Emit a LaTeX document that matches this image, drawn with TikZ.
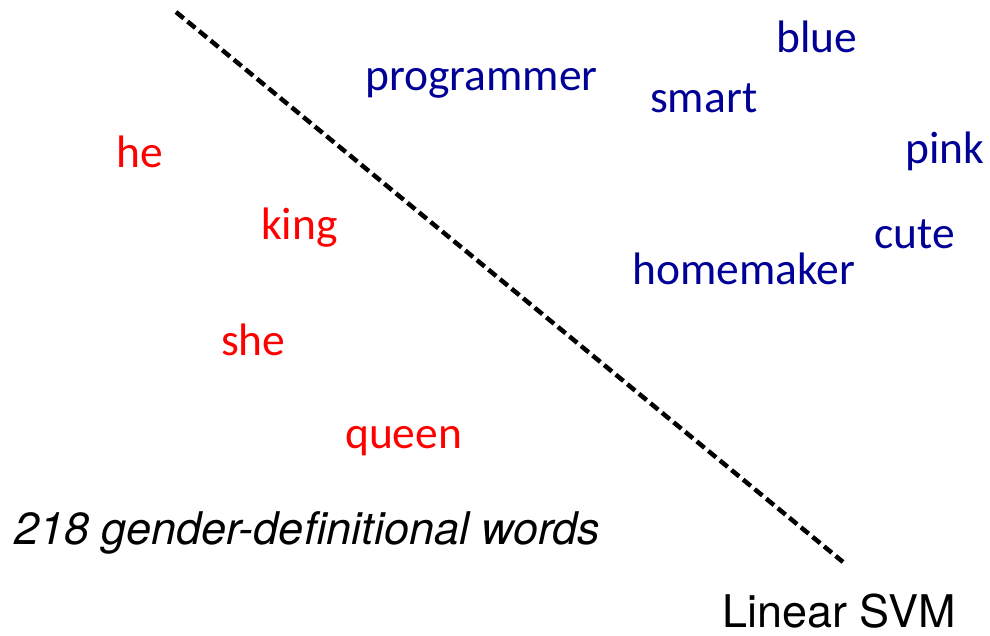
\documentclass[tikz,border=0pt]{standalone}
\usepackage{fontspec}
\setmainfont{Carlito}
\newfontfamily\heros{TeX Gyre Heros}
\definecolor{malered}{RGB}{255,0,0}
\definecolor{wordblue}{RGB}{0,0,150}
\begin{document}
\begin{tikzpicture}[x=1pt,y=-1pt,
  word/.style={anchor=base west, inner sep=0pt, font=\fontsize{45.5}{50}\selectfont},
  gword/.style={word, text=malered},
  bword/.style={word, text=wordblue},
  caption/.style={anchor=base west, inner sep=0pt, font=\heros\fontsize{45}{50}\selectfont},
  svmline/.style={line width=4.5pt, dash pattern=on 10pt off 5pt}]
\useasboundingbox (0,0) rectangle (990,636);

% gender-definitional words
\node[gword] (he)    at (116,168) {he};
\node[gword] (king)  at (261,240) {king};
\node[gword] (she)   at (221,355) {she};
\node[gword] (queen) at (345,448) {queen};

% neutral words
\node[bword] (blue)       at (776,53)  {blue};
\node[bword] (programmer) at (365,91)  {programmer};
\node[bword] (smart)      at (650,113) {smart};
\node[bword] (pink)       at (905,164) {pink};
\node[bword] (cute)       at (874,249) {cute};
\node[bword] (homemaker)  at (632,284) {homemaker};

% separating hyperplane
\coordinate (svmtop) at (176,12);
\coordinate (svmbot) at (843,562);
\draw[svmline] (svmtop) -- (svmbot);

% captions
\node[caption] (setlabel) at (14,544) {\itshape 218 gender-definitional words};
\node[caption] (svmlabel) at (722,627) {Linear SVM};
\end{tikzpicture}
\end{document}
